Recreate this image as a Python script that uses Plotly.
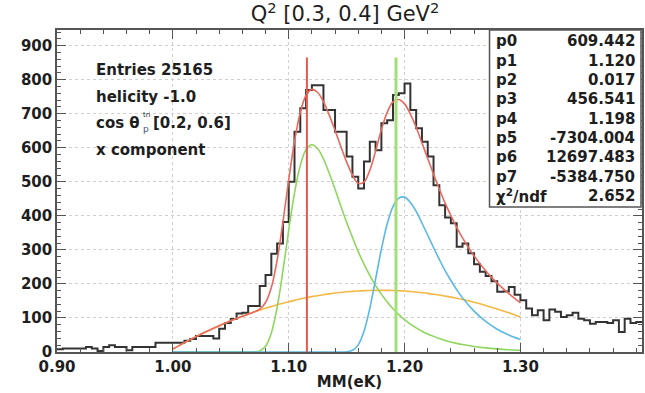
import numpy as np
import plotly.graph_objects as go

# ---------------- data ----------------
BIN_LO = 0.90
BIN_WIDTH = 0.005
COUNTS = [8, 10, 10, 10, 10, 15, 10, 3, 15, 20,
          15, 15, 5, 15, 15, 15, 15, 27, 27, 27,
          27, 27, 33, 38, 47, 47, 47, 40, 68, 85,
          97, 113, 115, 135, 135, 194, 226, 289, 319, 382,
          500, 647, 716, 770, 784, 784, 711, 711, 647, 647,
          574, 515, 480, 560, 618, 593, 672, 681, 755, 760,
          789, 711, 657, 618, 574, 490, 431, 395, 378, 309,
          319, 290, 258, 236, 223, 208, 177, 178, 191, 168,
          152, 128, 108, 123, 93, 125, 118, 103, 108, 115,
          98, 93, 83, 88, 88, 85, 93, 59, 98, 85, 88]

FIT_X = [1.00, 1.01, 1.02, 1.03, 1.04, 1.05, 1.06,
         1.065, 1.07, 1.075, 1.08, 1.085, 1.09, 1.095, 1.10, 1.105, 1.11,
         1.115, 1.12, 1.125, 1.13, 1.135, 1.14, 1.145, 1.15, 1.155, 1.16,
         1.165, 1.17, 1.175, 1.18, 1.185, 1.19, 1.195, 1.20, 1.205, 1.21,
         1.215, 1.22, 1.225, 1.23, 1.235, 1.24, 1.245, 1.25,
         1.26, 1.27, 1.28, 1.29, 1.30]
FIT_TOTAL = [8.7, 27.5, 45.2, 61.7, 77.2, 91.7, 105.0,
             111.2, 117.6, 126.2, 145.5, 189.6, 269.6, 381.2, 505.7, 618.7, 703.7,
             754.2, 771.6, 762.5, 735.4, 695.8, 651.1, 604.0, 558.5, 520.1, 495.4,
             499.2, 533.9, 590.1, 653.3, 704.0, 734.7, 741.9, 729.0, 698.6, 660.2,
             614.3, 568.3, 522.8, 478.8, 437.3, 400.7, 366.2, 335.1,
             282.3, 239.0, 202.5, 171.8, 144.5]
FIT_PEAK1 = [0, 0, 0, 0, 0, 0, 0,
             0, 0.3, 3.3, 17, 56, 131, 238, 358, 467, 548,
             595, 609, 597, 567, 525, 478, 429, 381, 337, 295,
             258, 225, 195, 170, 147, 127, 110, 95, 82, 71,
             61, 53, 46, 39.5, 34, 29.4, 25.4, 21.9,
             16.3, 12.2, 9.1, 6.8, 5.0]
FIT_PEAK2 = [0, 0, 0, 0, 0, 0, 0,
             0, 0, 0, 0, 0, 0, 0, 0, 0, 0,
             0, 0, 0, 0, 0, 0, 0, 0.7, 5, 21,
             61, 128, 214, 302, 376, 427, 452, 455, 439, 413,
             379, 343, 307, 272, 239, 210, 183, 159,
             120, 90, 67, 50, 37]
FIT_BKG = [8.7, 27.5, 45.2, 61.7, 77.2, 91.7, 105.0,
           111.2, 117.3, 122.9, 128.5, 133.6, 138.6, 143.2, 147.7, 151.7, 155.7,
           159.2, 162.6, 165.5, 168.4, 170.8, 173.1, 175.0, 176.8, 178.1, 179.4,
           180.2, 180.9, 181.1, 181.3, 181.0, 180.7, 179.9, 179.0, 177.6, 176.2,
           174.3, 172.3, 169.8, 167.3, 164.3, 161.3, 157.8, 154.2,
           146.0, 136.8, 126.4, 115.0, 102.5]

LAMBDA_MASS = 1.1157
SIGMA0_MASS = 1.1926
MARKER_TOP = 865

STAT_NAMES = ["p0", "p1", "p2", "p3", "p4", "p5", "p6", "p7", "χ<sup>2</sup>/ndf"]
STAT_VALUES = ["609.442", "1.120", "0.017", "456.541", "1.198",
               "-7304.004", "12697.483", "-5384.750", "2.652"]

INFO_LINES = ["Entries 25165", "helicity -1.0", None, "x component"]

X_TICKS = [0.90, 1.00, 1.10, 1.20, 1.30]
X_TICK_TEXT = ["0.90", "1.00", "1.10", "1.20", "1.30"]
Y_TICKS = [0, 100, 200, 300, 400, 500, 600, 700, 800, 900]

# ---------------- layout geometry ----------------
W, H = 645, 393
ML, MR, MT, MB = 57, 1, 30, 41
PW, PH = W - ML - MR, H - MT - MB


def px(xp):
    return (xp - ML) / PW


def py(yp):
    return (H - MB - yp) / PH


FONT = "DejaVu Sans"
TXT = "#1e1e1e"

# histogram as step line
edges = BIN_LO + BIN_WIDTH * np.arange(len(COUNTS) + 1)
hx = list(edges)
hy = list(COUNTS) + [COUNTS[-1]]

fig = go.Figure()

fig.add_trace(go.Scatter(x=hx, y=hy, mode="lines", line_shape="hv",
                         line=dict(color="#333333", width=2), hoverinfo="skip"))

fig.add_trace(go.Scatter(x=FIT_X, y=FIT_BKG, mode="lines", line_shape="spline",
                         line=dict(color="#f4b845", width=1.6)))
fig.add_trace(go.Scatter(x=FIT_X, y=FIT_PEAK1, mode="lines", line_shape="spline",
                         line=dict(color="#8fd65e", width=1.6)))
fig.add_trace(go.Scatter(x=FIT_X, y=FIT_PEAK2, mode="lines", line_shape="spline",
                         line=dict(color="#5ab8e6", width=1.6)))
fig.add_trace(go.Scatter(x=FIT_X, y=FIT_TOTAL, mode="lines", line_shape="spline",
                         line=dict(color="#e8695e", width=1.6)))

fig.add_trace(go.Scatter(x=[LAMBDA_MASS, LAMBDA_MASS], y=[0, MARKER_TOP], mode="lines",
                         line=dict(color="#e35a4f", width=2)))
fig.add_trace(go.Scatter(x=[SIGMA0_MASS, SIGMA0_MASS], y=[0, MARKER_TOP], mode="lines",
                         line=dict(color="#a5df78", width=3)))

annotations = []
# stats box
box_left, box_top, box_bottom, box_right = 491, 30, 207, 643
shapes = [dict(type="rect", xref="paper", yref="paper",
               x0=px(box_left), x1=px(box_right), y0=py(box_bottom), y1=py(box_top),
               fillcolor="white", line=dict(color="#555555", width=1.5), layer="above")]
row0, drow = 41.5, 19.3
for i, (n, v) in enumerate(zip(STAT_NAMES, STAT_VALUES)):
    yy = py(row0 + drow * i)
    annotations.append(dict(xref="paper", yref="paper", x=px(495), y=yy, text=n,
                            xanchor="left", yanchor="middle", showarrow=False,
                            font=dict(family=FONT, size=15, color=TXT, weight="bold")))
    annotations.append(dict(xref="paper", yref="paper", x=px(639), y=yy, text=v,
                            xanchor="right", yanchor="middle", showarrow=False,
                            font=dict(family=FONT, size=15, color=TXT, weight="bold")))

# info text
info_y = [70, 96.5, 123, 149.5]
for t, yv in zip(INFO_LINES, info_y):
    if t is None:
        continue
    annotations.append(dict(xref="paper", yref="paper", x=px(94), y=py(yv), text=t,
                            xanchor="left", yanchor="middle", showarrow=False,
                            font=dict(family=FONT, size=15, color=TXT, weight="bold")))
# cos theta line with stacked sub/superscript
annotations.append(dict(xref="paper", yref="paper", x=px(94), y=py(info_y[2]), text="cos θ",
                        xanchor="left", yanchor="middle", showarrow=False,
                        font=dict(family=FONT, size=15, color=TXT, weight="bold")))
annotations.append(dict(xref="paper", yref="paper", x=px(141), y=py(115), text="tri",
                        xanchor="left", yanchor="middle", showarrow=False,
                        font=dict(family=FONT, size=7, color=TXT)))
annotations.append(dict(xref="paper", yref="paper", x=px(141), y=py(129), text="p",
                        xanchor="left", yanchor="middle", showarrow=False,
                        font=dict(family=FONT, size=9, color="#445577")))
annotations.append(dict(xref="paper", yref="paper", x=px(151), y=py(info_y[2]), text="[0.2, 0.6]",
                        xanchor="left", yanchor="middle", showarrow=False,
                        font=dict(family=FONT, size=15, color=TXT, weight="bold")))

fig.update_layout(
    width=W, height=H, margin=dict(l=ML, r=MR, t=MT, b=MB),
    paper_bgcolor="white", plot_bgcolor="white", showlegend=False,
    title=dict(text="Q<sup>2</sup> [0.3, 0.4] GeV<sup>2</sup>", x=345 / W, xanchor="center",
               xref="container", y=1 - 14 / H, yanchor="middle", yref="container",
               font=dict(family=FONT, size=21, color=TXT)),
    shapes=shapes, annotations=annotations,
)
fig.update_xaxes(range=[0.9, 0.9 + PW / 1162.5], tickvals=X_TICKS, ticktext=X_TICK_TEXT,
                 ticks="inside", ticklen=9, tickcolor="#555", showline=True, linecolor="#555",
                 linewidth=1.5, mirror="ticks", showgrid=True, gridcolor="#cfcfcf",
                 griddash="dot", gridwidth=1, zeroline=False,
                 tickfont=dict(family=FONT, size=15, color=TXT, weight="bold"),
                 minor=dict(dtick=0.02, ticks="inside", ticklen=4, tickcolor="#555", showgrid=False),
                 title=dict(text="MM(eK)", standoff=2,
                            font=dict(family=FONT, size=15, color=TXT, weight="bold")))
fig.update_yaxes(range=[0, 946], tickvals=Y_TICKS,
                 ticks="inside", ticklen=9, tickcolor="#555", showline=True, linecolor="#555",
                 linewidth=1.5, mirror="ticks", showgrid=True, gridcolor="#cfcfcf",
                 griddash="dot", gridwidth=1, zeroline=False,
                 tickfont=dict(family=FONT, size=15, color=TXT, weight="bold"),
                 minor=dict(dtick=20, ticks="inside", ticklen=4, tickcolor="#555", showgrid=False))

fig.write_html("out.html")
